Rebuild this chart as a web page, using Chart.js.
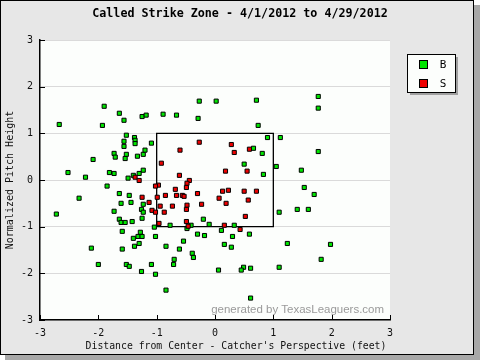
<!DOCTYPE html>
<html><head><meta charset="utf-8">
<script src="https://cdn.jsdelivr.net/npm/chart.js@4"></script>
<style>html,body{margin:0;padding:0;background:#fff}#wrap{width:480px;height:360px;position:relative}canvas{display:block}</style>
</head><body><div id="wrap"><canvas id="c" width="480" height="360"></canvas></div>
<script>
const chartTitle = 'Called Strike Zone - 4/1/2012 to 4/29/2012';
const xAxisTitle = "Distance from Center - Catcher's Perspective (feet)";
const yAxisTitle = 'Normalized Pitch Height';
const watermark = 'generated by TexasLeaguers.com';
const seriesLabels = ['B', 'S'];
const xTicks = [-3, -2, -1, 0, 1, 2, 3];
const yTicks = [-3, -2, -1, 0, 1, 2, 3];
const zoneX = [-1, 1, 1, -1, -1];
const zoneY = [-1, -1, 1, 1, -1];

const ballX = [-1.90,-1.64,-2.67,-1.93,-1.56,-1.25,-1.18,-1.52,-1.38,-0.27,0.02,0.71,-0.89,-0.66,-0.29,0.74,0.90,1.77,1.77,1.12,
  -1.56,-1.37,-1.37,-1.56,-1.09,-1.73,-1.52,-1.71,-1.54,-1.33,-1.23,-1.20,-2.09,-2.52,-2.22,-1.81,-1.73,-1.40,-1.30,-1.23,
  -1.49,-1.85,-1.64,-1.47,-2.33,-1.61,-1.44,-1.23,-1.26,-1.23,-1.73,-2.72,-1.25,-1.64,-1.61,-1.54,-1.42,-1.04,0.66,0.81,
  0.50,0.83,-0.20,-0.10,-0.77,-0.41,0.33,-0.48,0.11,-1.02,-0.30,-0.18,0.30,0.59,-0.54,-0.84,-0.61,0.16,0.28,-0.39,
  -0.37,-0.70,-0.71,-1.09,-1.02,0.06,0.49,0.45,0.61,-0.84,0.61,-1.59,-1.40,-1.28,-1.32,-1.25,-1.30,-1.38,-2.12,-1.59,
  -2.00,-1.52,-1.47,-1.26,1.77,1.05,1.48,1.53,1.70,1.10,1.41,1.60,1.24,1.98,1.82,1.10];
const ballY = [1.58,1.43,1.19,1.17,1.28,1.36,1.39,0.96,0.91,1.69,1.69,1.71,1.41,1.39,1.32,1.17,0.91,1.79,1.54,0.91,
  0.83,0.85,0.78,0.72,0.79,0.57,0.55,0.49,0.46,0.51,0.55,0.64,0.44,0.16,0.06,0.16,0.14,0.10,0.14,0.21,
  0.04,-0.13,-0.29,-0.33,-0.39,-0.50,-0.48,-0.52,-0.63,-0.69,-0.67,-0.73,-0.82,-0.84,-0.91,-0.91,-0.89,-1.01,0.68,0.57,
  0.34,0.12,-0.84,-0.95,-0.97,-0.97,-0.97,-1.04,-1.08,-1.21,-1.16,-1.19,-1.21,-1.16,-1.31,-1.42,-1.48,-1.38,-1.44,-1.57,
  -1.66,-1.70,-1.81,-1.81,-2.02,-1.93,-1.87,-1.93,-1.89,-2.36,-2.53,-1.10,-1.25,-1.12,-1.21,-1.21,-1.36,-1.42,-1.46,-1.48,
  -1.81,-1.81,-1.85,-1.96,0.61,0.29,0.21,-0.16,-0.31,-0.69,-0.63,-0.63,-1.36,-1.38,-1.70,-1.87];

const strikeX = [-1.37,-1.30,-0.97,-1.02,-1.25,-0.99,-1.13,-1.08,-1.02,-0.96,-0.27,0.28,-0.60,0.33,0.59,-0.92,0.18,0.55,-0.61,-0.44,
  -0.48,-0.49,-0.68,-0.85,-0.66,-0.56,-0.53,-0.30,0.13,0.23,0.50,0.71,0.07,0.57,0.19,-0.23,-0.48,-0.73,-0.94,-0.49,
  -0.87,0.52,-0.49,-0.46,0.16,0.43];
const strikeY = [0.06,-0.01,-0.11,-0.13,-0.37,-0.37,-0.48,-0.65,-0.69,-0.93,0.81,0.76,0.64,0.59,0.66,0.36,0.19,0.19,0.10,-0.01,
  -0.07,-0.16,-0.20,-0.33,-0.33,-0.33,-0.35,-0.29,-0.24,-0.22,-0.24,-0.24,-0.39,-0.43,-0.50,-0.52,-0.54,-0.56,-0.56,-0.63,
  -0.69,-0.78,-0.89,-0.99,-0.97,-1.06];

const ballColor = '#00e600';
const strikeColor = '#ee0000';
const mono = "'DejaVu Sans Mono', monospace";
const toPts = (xs, ys) => xs.map((x, i) => ({x: x, y: ys[i]}));

const decor = {
  id: 'decor',
  beforeDraw(chart) {
    const ctx = chart.ctx, ca = chart.chartArea;
    ctx.save();
    ctx.fillStyle = '#ffffff'; ctx.fillRect(0, 0, 480, 360);
    ctx.fillStyle = '#a8a8a8'; ctx.fillRect(5, 5, 475, 355);
    ctx.fillStyle = '#e7e7e7'; ctx.fillRect(0, 0, 474, 355);
    ctx.strokeStyle = '#000'; ctx.lineWidth = 1; ctx.strokeRect(0.5, 0.5, 473, 354);
    ctx.fillStyle = '#fcfefc'; ctx.fillRect(ca.left, ca.top, ca.right - ca.left, ca.bottom - ca.top);
    ctx.fillStyle = '#000';
    ctx.font = 'bold 11.7px ' + mono;
    ctx.textAlign = 'center'; ctx.textBaseline = 'middle';
    ctx.fillText(chartTitle, 240, 14);
    ctx.restore();
  },
  beforeDatasetsDraw(chart) {
    const ctx = chart.ctx;
    ctx.save();
    ctx.font = "11px 'Liberation Sans', sans-serif";
    const w = ctx.measureText(watermark).width;
    const fs = 11 * 173 / w;
    ctx.font = fs.toFixed(2) + "px 'Liberation Sans', sans-serif";
    ctx.fillStyle = '#9a9a9a';
    ctx.textAlign = 'right'; ctx.textBaseline = 'alphabetic';
    ctx.fillText(watermark, 384, 313);
    ctx.restore();
  },
  afterDraw(chart) {
    const ctx = chart.ctx, ca = chart.chartArea;
    const xs = chart.scales.x, ys = chart.scales.y;
    ctx.save();
    ctx.strokeStyle = '#000'; ctx.lineWidth = 1;
    ctx.beginPath();
    xTicks.forEach(v => { const p = Math.round(xs.getPixelForValue(v)) + 0.5; ctx.moveTo(p, ca.bottom); ctx.lineTo(p, ca.bottom - 5); });
    yTicks.forEach(v => { const p = Math.round(ys.getPixelForValue(v)) + 0.5; ctx.moveTo(ca.left, p); ctx.lineTo(ca.left + 5, p); });
    ctx.stroke();
    // axis titles
    ctx.fillStyle = '#111';
    ctx.font = '9.8px ' + mono;
    ctx.textAlign = 'center'; ctx.textBaseline = 'middle';
    ctx.fillText(xAxisTitle, 236, 346);
    ctx.save();
    ctx.translate(10, (ca.top + ca.bottom) / 2);
    ctx.rotate(-Math.PI / 2);
    ctx.font = '10px ' + mono;
    ctx.fillText(yAxisTitle, 0, 0);
    ctx.restore();
    // legend
    const lx = 407, ly = 54, lw = 48, lh = 38;
    ctx.fillStyle = '#a0a0a0'; ctx.fillRect(lx + 3, ly + 3, lw, lh);
    ctx.fillStyle = '#fcfefc'; ctx.fillRect(lx, ly, lw, lh);
    ctx.strokeStyle = '#000'; ctx.strokeRect(lx + 0.5, ly + 0.5, lw, lh);
    const cols = [ballColor, strikeColor];
    seriesLabels.forEach((lab, i) => {
      const cy = 64 + i * 19;
      ctx.fillStyle = cols[i]; ctx.fillRect(420, cy - 3, 7, 7);
      ctx.strokeStyle = '#000'; ctx.strokeRect(419.5, cy - 3.5, 8, 8);
      ctx.fillStyle = '#000'; ctx.font = '11px ' + mono;
      ctx.textAlign = 'center'; ctx.textBaseline = 'middle';
      ctx.fillText(lab, 443, cy + 1);
    });
    ctx.restore();
  }
};

new Chart(document.getElementById('c'), {
  type: 'scatter',
  data: {
    datasets: [
      {label: seriesLabels[1], data: toPts(strikeX, strikeY), order: 0, pointStyle: 'rect', pointRadius: 2.9, pointHoverRadius: 2.9,
        backgroundColor: strikeColor, borderColor: '#000', borderWidth: 1},
      {label: seriesLabels[0], data: toPts(ballX, ballY), order: 1, pointStyle: 'rect', pointRadius: 2.9, pointHoverRadius: 2.9,
        backgroundColor: ballColor, borderColor: '#000', borderWidth: 1},
      {label: 'zone', data: toPts(zoneX, zoneY), order: 2, showLine: true, pointRadius: 0, borderColor: '#000', borderWidth: 1.3,
        fill: false, tension: 0}
    ]
  },
  options: {
    responsive: false, animation: false, events: [],
    layout: {padding: {top: 40, right: 90, left: 0, bottom: 0}},
    plugins: {legend: {display: false}, tooltip: {enabled: false}, title: {display: false}},
    scales: {
      x: {type: 'linear', min: -3, max: 3,
        afterBuildTicks: s => { s.ticks = xTicks.map(v => ({value: v})); },
        afterFit: s => { s.height = 40; },
        ticks: {font: {family: mono, size: 10}, color: '#111', padding: 7, maxRotation: 0, autoSkip: false, callback: v => String(v)},
        grid: {display: true, color: 'rgba(0,0,0,0)', drawTicks: false},
        border: {display: true, color: '#000', width: 1.5}},
      y: {type: 'linear', min: -3, max: 3,
        afterBuildTicks: s => { s.ticks = yTicks.map(v => ({value: v})); },
        afterFit: s => { s.width = 40; },
        ticks: {font: {family: mono, size: 10}, color: '#111', padding: 7, autoSkip: false, callback: v => String(v)},
        grid: {display: true, color: '#dadada', drawTicks: false},
        border: {display: true, color: '#000', width: 1.5}}
    }
  },
  plugins: [decor]
});
</script>
</body></html>
